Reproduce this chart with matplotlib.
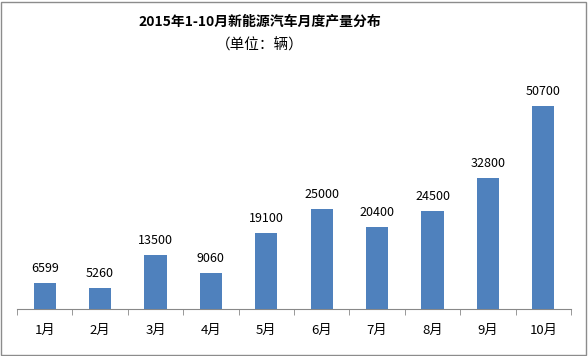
import matplotlib
matplotlib.use("Agg")
import matplotlib.pyplot as plt
from matplotlib.patches import Rectangle

plt.rcParams['font.family'] = ['Noto Sans CJK SC', 'DejaVu Sans']

months = ["1月", "2月", "3月", "4月", "5月", "6月", "7月", "8月", "9月", "10月"]
values = [6599, 5260, 13500, 9060, 19100, 25000, 20400, 24500, 32800, 50700]
title = "2015年1-10月新能源汽车月度产量分布"
subtitle = "（单位：辆）"

fig = plt.figure(figsize=(5.88, 3.56), dpi=100)
W, H = 588, 356
ax = fig.add_axes([17 / W, (H - 309) / H, (571 - 17) / W, (309 - 60) / H])

x = list(range(len(months)))
ax.bar(x, values, width=0.4, color="#4F81BD", zorder=3)
for xi, v in zip(x, values):
    ax.text(xi, v + 2000, str(v), ha="center", va="bottom", fontsize=9, color="black")

ax.set_xlim(-0.5, len(months) - 0.5)
ax.set_ylim(0, 62250)
ax.set_yticks([])
ax.set_xticks(x)
ax.set_xticklabels(months, fontsize=9.5)
ax.set_xticks([i - 0.5 for i in range(len(months) + 1)], minor=True)
ax.tick_params(axis="x", which="major", length=0, pad=11)
ax.tick_params(axis="x", which="minor", length=4, color="#888888", direction="out")
for s in ["top", "right", "left"]:
    ax.spines[s].set_visible(False)
ax.spines["bottom"].set_color("#888888")
ax.patch.set_alpha(0)

fig.text(260 / W, 1 - 22 / H, title, ha="center", va="center", fontsize=10, fontweight="bold")
fig.text(260 / W, 1 - 45 / H, subtitle, ha="center", va="center", fontsize=10.5)

fig.add_artist(Rectangle((1 / W, 1 / H), 1 - 3 / W, 1 - 3 / H, transform=fig.transFigure,
                         fill=False, edgecolor="#8c8c8c", linewidth=1))

fig.savefig("out.png", dpi=100)
